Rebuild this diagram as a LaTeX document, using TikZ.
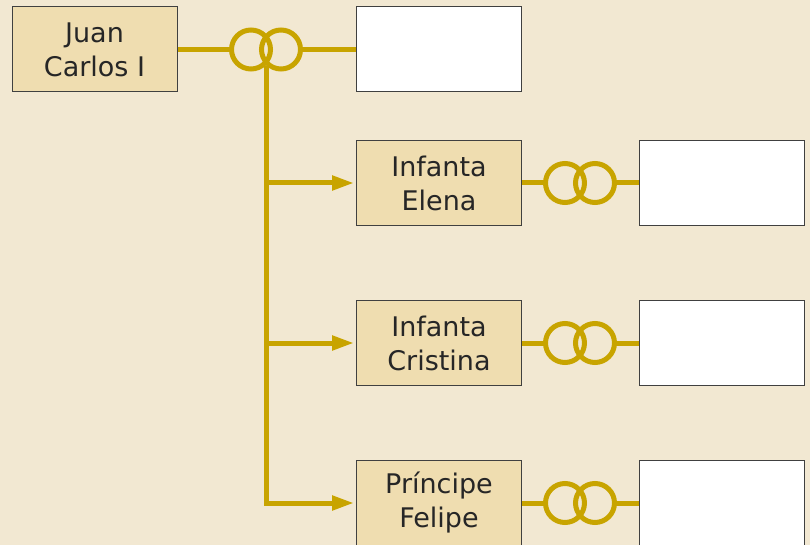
\documentclass[tikz,border=0pt]{standalone}
\usepackage{fontspec}
\setmainfont{DejaVu Sans}
\usetikzlibrary{arrows.meta}
\definecolor{bg}{HTML}{F2E8D2}
\definecolor{boxfill}{HTML}{EFDDB0}
\definecolor{gold}{HTML}{C8A400}
\definecolor{edge}{HTML}{404040}
\tikzset{
  person/.style={draw=edge, line width=1pt, fill=boxfill, minimum width=165pt, minimum height=85pt, inner sep=0pt, align=center, font=\fontsize{27}{34}\selectfont, text=black!85},
  spouse/.style={draw=edge, line width=1pt, fill=white, minimum width=165pt, minimum height=85pt, inner sep=0pt},
  link/.style={draw=gold, line width=5pt},
  ring/.style={draw=gold, line width=5pt, circle, minimum size=39pt, inner sep=0pt, outer sep=0pt},
  arr/.style={link, -{Triangle[length=22pt,width=14pt]}, shorten >=2pt}
}
\begin{document}
\begin{tikzpicture}[x=1pt,y=-1pt]
\fill[bg] (0,0) rectangle (810,545);
\useasboundingbox (0,0) rectangle (810,545);
% top
\node[person] (jc) at (94.5,49.5) {Juan\\Carlos I};
\node[spouse] (sj) at (439,49.5) {};
\node[ring] (ra) at (251,49.5) {};
\node[ring] (rb) at (281,49.5) {};
\draw[link] (jc.east) -- (ra.west);
\draw[link] (rb.east) -- (sj.west);
\coordinate (t) at (266,66);
% children
\node[person] (el) at (439,183) {Infanta\\Elena};
\node[person] (cr) at (439,343) {Infanta\\Cristina};
\node[person] (fe) at (439,503) {Príncipe\\Felipe};
\coordinate (bend) at (266,503);
\draw[arr, line join=miter] (t) -- (bend) -- (fe.west);
\draw[arr] (266,183) -- (el.west);
\draw[arr] (266,343) -- (cr.west);
\foreach \n/\y in {el/183,cr/343,fe/503}{
  \node[spouse] (s\n) at (721.5,\y) {};
  \node[ring] (ra\n) at (565,\y) {};
  \node[ring] (rb\n) at (595,\y) {};
  \draw[link] (\n.east) -- (ra\n.west);
  \draw[link] (rb\n.east) -- (s\n.west);
}
\end{tikzpicture}
\end{document}
